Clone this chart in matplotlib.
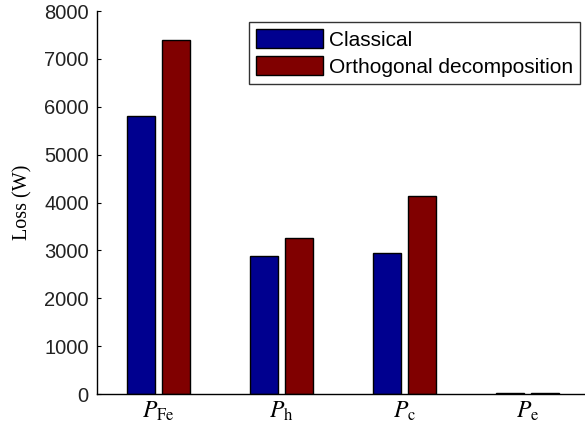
import matplotlib
matplotlib.use("Agg")
import matplotlib.pyplot as plt
import numpy as np

plt.rcParams['font.family'] = ['Liberation Sans', 'DejaVu Sans']
plt.rcParams['mathtext.fontset'] = 'stix'

categories = [r'$P_{\mathrm{Fe}}$', r'$P_{\mathrm{h}}$', r'$P_{\mathrm{c}}$', r'$P_{\mathrm{e}}$']
classical = [5810, 2880, 2940, 25]
orthogonal = [7390, 3250, 4130, 25]
series_names = ['Classical', 'Orthogonal decomposition']
yticks = [0, 1000, 2000, 3000, 4000, 5000, 6000, 7000, 8000]

fig = plt.figure(figsize=(5.85, 4.25), dpi=100)
ax = fig.add_axes([0.1658, 0.0729, 0.8410, 0.9012])

x = np.arange(1, len(categories) + 1)
w = 0.23
off = 0.14
ax.bar(x - off, classical, width=w, color='#00008f', edgecolor='black',
       linewidth=1.0, label=series_names[0])
ax.bar(x + off, orthogonal, width=w, color='#800000', edgecolor='black',
       linewidth=1.0, label=series_names[1])

ax.set_xlim(0.5, 4.5)
ax.set_ylim(0, 8000)
ax.set_xticks(x)
ax.set_xticklabels(categories, fontsize=17)
ax.set_yticks(yticks)
ax.set_yticklabels([str(v) for v in yticks], fontsize=14.5, color='#222222')
ax.tick_params(axis='y', direction='in', length=3, pad=6)
ax.tick_params(axis='x', length=0, pad=4)
for s in ['top', 'right']:
    ax.spines[s].set_visible(False)
for s in ['left', 'bottom']:
    ax.spines[s].set_linewidth(1.0)

ax.set_ylabel('Loss (W)', family='Liberation Serif', fontsize=14.5, labelpad=8)

leg = ax.legend(loc='upper right', bbox_to_anchor=(0.992, 0.948),
                bbox_transform=fig.transFigure, fontsize=15,
                frameon=True, fancybox=False, shadow=False,
                handlelength=3.2, handleheight=1.0, handletextpad=0.3,
                borderpad=0.35, labelspacing=0.3, borderaxespad=0)
leg.get_frame().set_edgecolor('black')
leg.get_frame().set_linewidth(1.0)

fig.savefig('out.png', dpi=100)
